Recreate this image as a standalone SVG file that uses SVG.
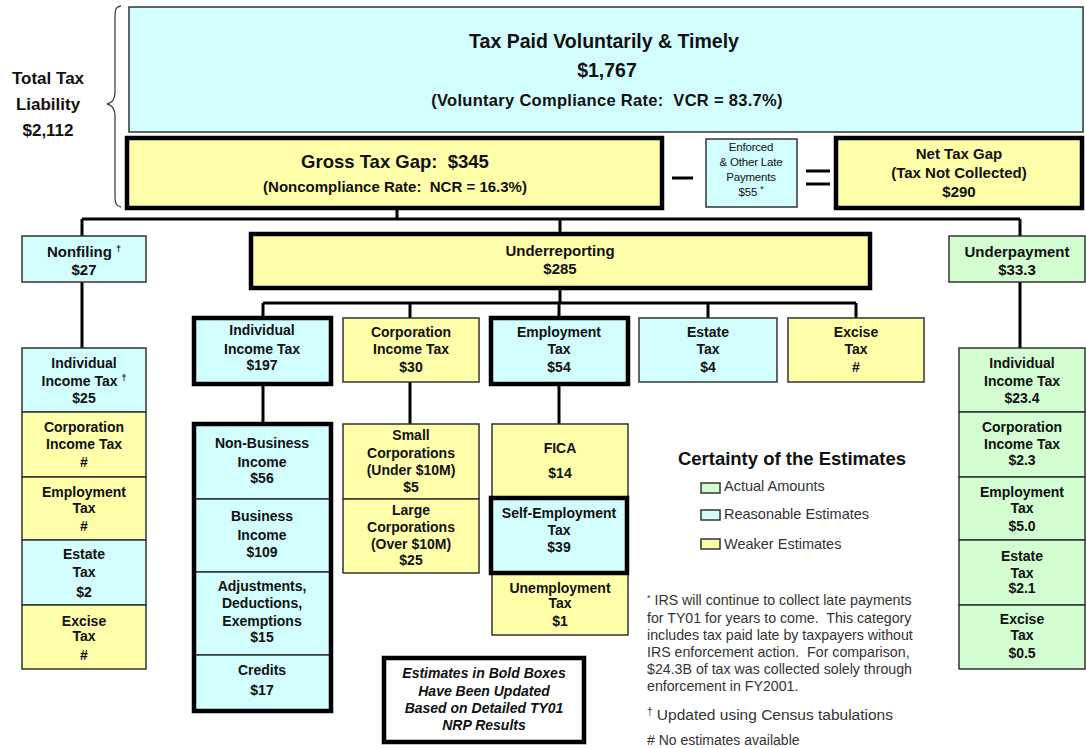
<svg xmlns="http://www.w3.org/2000/svg" width="1086" height="748" viewBox="0 0 1086 748">
<style>
.c{fill:#D2FEFE;stroke:#333;stroke-width:1.5}
.y{fill:#FFFFAA;stroke:#333;stroke-width:1.5}
.g{fill:#D2FED2;stroke:#333;stroke-width:1.5}
.thick{stroke:#000;stroke-width:4.5}
.frame{fill:none;stroke:#000;stroke-width:4.5}
.t{font-family:"Liberation Sans",Arial,Helvetica,sans-serif;font-weight:bold;font-size:14px;text-anchor:middle;fill:#111;white-space:pre}
.t15{font-size:15px}
.big{font-size:19.5px}
.sup{font-size:9px}
.sm{font-weight:normal;font-size:11.5px;letter-spacing:-0.2px}
.conn{stroke:#000;stroke-width:3;fill:none}
.n{font-family:"Liberation Sans",Arial,Helvetica,sans-serif;fill:#333;white-space:pre}
</style>

<g id="connectors">
<path class="conn" d="M397 208V219M82 219H1020M82 219V236M560 219V233M1020 219V236"/>
<path class="conn" d="M82 282V348M1020 282V348"/>
<path class="conn" d="M560 288V303M263 303H856M263 303V317M410 303V318M559 303V317M708 303V318M856 303V318"/>
<path class="conn" d="M263 384V424M410 382V424M559 384V424"/>
</g>

<g id="total-liability">
<path d="M121 6C115 7 115 10 115 20L115 92C115 100 112 103 107 104C112 105 115 108 115 116L115 195C115 204 116 206 121 207" fill="none" stroke="#444" stroke-width="1.3"/>
<text class="t" style="font-size:17px" x="48" y="84">Total Tax</text>
<text class="t" style="font-size:17px" x="48" y="110">Liability</text>
<text class="t" style="font-size:17px" x="48" y="136">$2,112</text>
</g>

<g id="tax-paid">
<rect class="c" x="129" y="7" width="954" height="125"/>
<text class="t big" x="604" y="48">Tax Paid Voluntarily &amp; Timely</text>
<text class="t big" x="607" y="77">$1,767</text>
<text class="t" style="font-size:16.5px;letter-spacing:0.3px" x="607" y="106">(Voluntary Compliance Rate:  VCR = 83.7%)</text>
</g>

<g id="gross-gap">
<rect class="y thick" x="127" y="138" width="535" height="70"/>
<text class="t" style="font-size:18.5px" x="395" y="168">Gross Tax Gap:  $345</text>
<text class="t" style="font-size:15px" x="395" y="192">(Noncompliance Rate:  NCR = 16.3%)</text>
</g>

<g id="minus"><path d="M672 178H693" stroke="#000" stroke-width="3"/></g>

<g id="enforced">
<rect class="c" x="706" y="139" width="91" height="68"/>
<text class="t sm" x="751" y="151">Enforced</text>
<text class="t sm" x="751" y="166">&amp; Other Late</text>
<text class="t sm" x="751" y="181">Payments</text>
<text class="t sm" x="751" y="196">$55 <tspan class="sup" dy="-4">*</tspan></text>
</g>

<g id="equals"><path d="M806 171H830M806 184H830" stroke="#000" stroke-width="3"/></g>

<g id="net-gap">
<rect class="y thick" x="836" y="138" width="246" height="70"/>
<text class="t t15" x="959" y="159">Net Tax Gap</text>
<text class="t t15" x="959" y="178">(Tax Not Collected)</text>
<text class="t t15" x="959" y="197">$290</text>
</g>

<g id="nonfiling">
<rect class="c" x="22" y="236" width="124" height="46"/>
<text class="t t15" x="84" y="257">Nonfiling <tspan class="sup" dy="-5">†</tspan></text>
<text class="t t15" x="84" y="275">$27</text>
</g>

<g id="underreporting">
<rect class="y thick" x="251" y="234" width="619" height="54"/>
<text class="t t15" x="560" y="256">Underreporting</text>
<text class="t t15" x="560" y="274">$285</text>
</g>

<g id="underpayment">
<rect class="g" x="949" y="236" width="136" height="46"/>
<text class="t t15" x="1017" y="257">Underpayment</text>
<text class="t t15" x="1017" y="275">$33.3</text>
</g>

<g id="nf-individual">
<rect class="c" x="22" y="348" width="124" height="64"/>
<text class="t" x="84" y="368">Individual</text>
<text class="t" x="84" y="386">Income Tax <tspan class="sup" dy="-5">†</tspan></text>
<text class="t" x="84" y="403">$25</text>
</g>
<g id="nf-corporation">
<rect class="y" x="22" y="412" width="124" height="65"/>
<text class="t" x="84" y="432">Corporation</text>
<text class="t" x="84" y="449">Income Tax</text>
<text class="t" x="84" y="467">#</text>
</g>
<g id="nf-employment">
<rect class="y" x="22" y="477" width="124" height="63"/>
<text class="t" x="84" y="497">Employment</text>
<text class="t" x="84" y="513">Tax</text>
<text class="t" x="84" y="531">#</text>
</g>
<g id="nf-estate">
<rect class="c" x="22" y="540" width="124" height="65"/>
<text class="t" x="84" y="559">Estate</text>
<text class="t" x="84" y="577">Tax</text>
<text class="t" x="84" y="597">$2</text>
</g>
<g id="nf-excise">
<rect class="y" x="22" y="605" width="124" height="64"/>
<text class="t" x="84" y="626">Excise</text>
<text class="t" x="84" y="641">Tax</text>
<text class="t" x="84" y="660">#</text>
</g>

<g id="ur-individual">
<rect class="c thick" x="194" y="318" width="137" height="66"/>
<text class="t" x="262" y="335">Individual</text>
<text class="t" x="262" y="354">Income Tax</text>
<text class="t" x="262" y="370">$197</text>
</g>
<g id="ur-corporation">
<rect class="y" x="343" y="318" width="136" height="64"/>
<text class="t" x="411" y="337">Corporation</text>
<text class="t" x="411" y="354">Income Tax</text>
<text class="t" x="411" y="372">$30</text>
</g>
<g id="ur-employment">
<rect class="c thick" x="491" y="318" width="137" height="66"/>
<text class="t" x="559" y="337">Employment</text>
<text class="t" x="559" y="354">Tax</text>
<text class="t" x="559" y="372">$54</text>
</g>
<g id="ur-estate">
<rect class="c" x="639" y="318" width="138" height="64"/>
<text class="t" x="708" y="337">Estate</text>
<text class="t" x="708" y="354">Tax</text>
<text class="t" x="708" y="372">$4</text>
</g>
<g id="ur-excise">
<rect class="y" x="788" y="318" width="136" height="64"/>
<text class="t" x="856" y="337">Excise</text>
<text class="t" x="856" y="354">Tax</text>
<text class="t" x="856" y="372">#</text>
</g>

<g id="ind-nonbusiness">
<rect class="c" x="194" y="424" width="137" height="75"/>
<text class="t" x="262" y="448">Non-Business</text>
<text class="t" x="262" y="467">Income</text>
<text class="t" x="262" y="483">$56</text>
</g>
<g id="ind-business">
<rect class="c" x="194" y="499" width="137" height="73"/>
<text class="t" x="262" y="521">Business</text>
<text class="t" x="262" y="540">Income</text>
<text class="t" x="262" y="557">$109</text>
</g>
<g id="ind-adjustments">
<rect class="c" x="194" y="572" width="137" height="83"/>
<text class="t" x="262" y="591">Adjustments,</text>
<text class="t" x="262" y="608">Deductions,</text>
<text class="t" x="262" y="626">Exemptions</text>
<text class="t" x="262" y="642">$15</text>
</g>
<g id="ind-credits">
<rect class="c" x="194" y="655" width="137" height="56"/>
<text class="t" x="262" y="675">Credits</text>
<text class="t" x="262" y="695">$17</text>
</g>
<g id="ind-frame"><rect class="frame" x="194" y="424" width="137" height="287"/></g>

<g id="corp-small">
<rect class="y" x="343" y="424" width="136" height="75"/>
<text class="t" x="411" y="440">Small</text>
<text class="t" x="411" y="458">Corporations</text>
<text class="t" x="411" y="475">(Under $10M)</text>
<text class="t" x="411" y="492">$5</text>
</g>
<g id="corp-large">
<rect class="y" x="343" y="499" width="136" height="74"/>
<text class="t" x="411" y="515">Large</text>
<text class="t" x="411" y="532">Corporations</text>
<text class="t" x="411" y="549">(Over $10M)</text>
<text class="t" x="411" y="565">$25</text>
</g>

<g id="emp-fica">
<rect class="y" x="492" y="424" width="136" height="73"/>
<text class="t" x="560" y="453">FICA</text>
<text class="t" x="560" y="478">$14</text>
</g>
<g id="emp-unemployment">
<rect class="y" x="492" y="573" width="136" height="62"/>
<text class="t" x="560" y="593">Unemployment</text>
<text class="t" x="560" y="608">Tax</text>
<text class="t" x="560" y="626">$1</text>
</g>
<g id="emp-self">
<rect class="c thick" x="491" y="498" width="136" height="75"/>
<text class="t" x="559" y="518">Self-Employment</text>
<text class="t" x="559" y="535">Tax</text>
<text class="t" x="559" y="552">$39</text>
</g>

<g id="up-individual">
<rect class="g" x="959" y="348" width="126" height="64"/>
<text class="t" x="1022" y="368">Individual</text>
<text class="t" x="1022" y="386">Income Tax</text>
<text class="t" x="1022" y="403">$23.4</text>
</g>
<g id="up-corporation">
<rect class="g" x="959" y="412" width="126" height="65"/>
<text class="t" x="1022" y="432">Corporation</text>
<text class="t" x="1022" y="449">Income Tax</text>
<text class="t" x="1022" y="465">$2.3</text>
</g>
<g id="up-employment">
<rect class="g" x="959" y="477" width="126" height="63"/>
<text class="t" x="1022" y="497">Employment</text>
<text class="t" x="1022" y="513">Tax</text>
<text class="t" x="1022" y="531">$5.0</text>
</g>
<g id="up-estate">
<rect class="g" x="959" y="540" width="126" height="65"/>
<text class="t" x="1022" y="561">Estate</text>
<text class="t" x="1022" y="578">Tax</text>
<text class="t" x="1022" y="593">$2.1</text>
</g>
<g id="up-excise">
<rect class="g" x="959" y="605" width="126" height="64"/>
<text class="t" x="1022" y="624">Excise</text>
<text class="t" x="1022" y="640">Tax</text>
<text class="t" x="1022" y="658">$0.5</text>
</g>

<g id="bold-note">
<rect x="384" y="658" width="200" height="84" fill="#fff" stroke="#000" stroke-width="4.5"/>
<text class="t" style="font-style:italic" x="484" y="678">Estimates in Bold Boxes</text>
<text class="t" style="font-style:italic" x="484" y="696">Have Been Updated</text>
<text class="t" style="font-style:italic" x="484" y="713">Based on Detailed TY01</text>
<text class="t" style="font-style:italic" x="484" y="730">NRP Results</text>
</g>

<g id="legend">
<text class="t" style="font-size:18.5px" x="792" y="465">Certainty of the Estimates</text>
<rect class="g" x="701" y="483" width="19" height="10"/>
<rect class="c" x="701" y="510" width="19" height="10"/>
<rect class="y" x="701" y="539" width="19" height="10"/>
<text class="n" font-size="14.5" x="724" y="491">Actual Amounts</text>
<text class="n" font-size="14.5" x="724" y="519">Reasonable Estimates</text>
<text class="n" font-size="14.5" x="724" y="549">Weaker Estimates</text>
</g>

<g id="footnotes">
<text class="n" font-size="14.2" x="647" y="605"><tspan font-size="9" dy="-4">*</tspan><tspan dy="4"> IRS will continue to collect late payments</tspan></text>
<text class="n" font-size="14.2" x="647" y="623">for TY01 for years to come.  This category</text>
<text class="n" font-size="14.2" x="647" y="640">includes tax paid late by taxpayers without</text>
<text class="n" font-size="14.2" x="647" y="657">IRS enforcement action.  For comparison,</text>
<text class="n" font-size="14.2" x="647" y="674">$24.3B of tax was collected solely through</text>
<text class="n" font-size="14.2" x="647" y="691">enforcement in FY2001.</text>
<text class="n" font-size="15.5" x="647" y="720"><tspan font-size="10" dy="-5">†</tspan><tspan dy="5"> Updated using Census tabulations</tspan></text>
<text class="n" font-size="14" x="647" y="745"># No estimates available</text>
</g>
</svg>
